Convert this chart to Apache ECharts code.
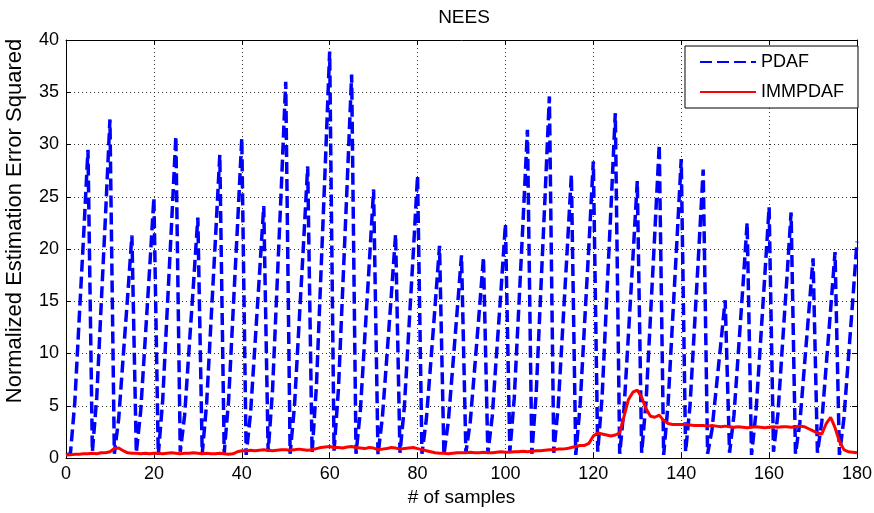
<!DOCTYPE html>
<html>
<head>
<meta charset="utf-8">
<script src="https://cdn.jsdelivr.net/npm/echarts@6/dist/echarts.min.js"></script>
<style>
html,body{margin:0;padding:0;background:#fff;}
#chart{width:874px;height:513px;}
</style>
</head>
<body>
<div id="chart"></div>
<script>
// PDAF NEES values, samples 0..180
const pdaf = [
0.3, 0.4, 5.3, 13.3, 21.2, 29.5,
0.6, 5.8, 14.6, 23.3, 32.4,
0.4, 3.8, 9.6, 15.3, 21.3,
0.5, 4.5, 11.2, 17.9, 24.9,
0.3, 5.5, 13.9, 22.2, 30.8,
0.6, 4.1, 10.4, 16.6, 23.0,
0.4, 5.2, 13.1, 20.9, 29.0,
0.5, 5.5, 13.8, 22.0, 30.6,
0.3, 4.3, 10.8, 17.4, 24.1,
0.6, 6.5, 16.2, 25.9, 36.0,
0.4, 5.0, 12.6, 20.1, 27.9,
0.5, 7.0, 17.5, 28.0, 38.9,
0.7, 6.6, 16.5, 26.4, 36.7,
0.4, 4.6, 11.6, 18.5, 25.7,
0.3, 3.9, 9.6, 15.4, 21.4,
0.5, 4.9, 12.2, 19.4, 27.0,
0.4, 3.7, 9.1, 14.6, 20.3,
0.3, 3.5, 8.7, 14.0, 19.4,
0.5, 3.5, 8.6, 13.8, 19.2,
0.4, 4.0, 10.1, 16.1, 22.4,
0.6, 5.7, 14.1, 22.6, 31.4,
0.4, 6.2, 15.6, 24.9, 34.6,
0.5, 4.9, 12.2, 19.5, 27.1,
0.3, 5.1, 12.8, 20.4, 28.4,
0.6, 5.9, 14.9, 23.8, 33.0,
0.4, 4.8, 11.9, 19.1, 26.5,
0.5, 5.4, 13.5, 21.6, 30.0,
0.3, 5.1, 12.9, 20.6, 28.6,
0.6, 5.0, 12.4, 19.9, 27.6,
0.4, 2.7, 6.8, 10.9, 15.1,
0.5, 4.1, 10.1, 16.2, 22.5,
0.3, 4.3, 10.8, 17.3, 24.0,
0.6, 4.2, 10.6, 16.9, 23.5,
0.4, 3.4, 8.6, 13.8, 19.1,
0.5, 3.5, 8.9, 14.2, 19.7,
0.3, 3.7, 9.3, 14.9, 20.7
];
// IMMPDAF NEES values, samples 0..180
const immpdaf = [
0.3, 0.3, 0.35, 0.35, 0.4, 0.4, 0.45, 0.4, 0.5, 0.5, 0.6,
0.9, 0.95, 0.7, 0.5, 0.45,
0.45, 0.4, 0.45, 0.4, 0.45,
0.45, 0.4, 0.45, 0.5, 0.45, 0.4, 0.45, 0.45, 0.5, 0.45,
0.4, 0.45, 0.4, 0.4, 0.45, 0.4, 0.35, 0.4, 0.6, 0.7,
0.7, 0.75, 0.7, 0.75, 0.8, 0.75, 0.7, 0.75, 0.8, 0.8,
0.75, 0.8, 0.85, 0.8, 0.75, 0.8, 0.9, 1.0, 1.05, 1.1,
1.0, 1.0, 0.95, 1.05, 1.1, 1.0, 0.95, 0.9, 1.0, 0.95,
0.8, 0.85, 0.9, 1.0, 0.95, 0.85, 0.9, 0.95, 1.0, 0.9,
0.8, 0.7, 0.6, 0.5, 0.45, 0.45, 0.4, 0.45, 0.5, 0.5,
0.5, 0.55, 0.5, 0.5, 0.55, 0.5, 0.5, 0.55, 0.6, 0.55,
0.55, 0.6, 0.6, 0.65, 0.6, 0.65, 0.7, 0.7, 0.75, 0.8,
0.8, 0.85, 0.85, 0.9, 1.0, 1.1, 1.2, 1.2, 1.4, 2.1,
2.4, 2.3, 2.2, 2.1, 2.2, 2.4, 4.0, 5.6, 6.3, 6.5,
5.8, 4.7, 4.0, 3.9, 4.1, 3.6, 3.3, 3.2, 3.2, 3.2,
3.2, 3.15, 3.1, 3.1, 3.1, 3.05, 3.1, 3.05, 3.0, 3.05,
3.0, 2.95, 3.0, 2.95, 2.9, 2.95, 3.0, 2.95, 2.9, 2.95,
3.0, 2.95, 3.0, 3.0, 2.95, 3.0, 3.05, 3.0, 2.8, 2.6,
2.4, 2.3, 3.3, 3.9, 2.9, 1.6, 0.8, 0.6, 0.55, 0.5
];
const seriesNames = ['PDAF', 'IMMPDAF'];
const xTicks = [0, 20, 40, 60, 80, 100, 120, 140, 160, 180];
const yTicks = [0, 5, 10, 15, 20, 25, 30, 35, 40];

const FONT = '"Liberation Sans", Arial, Helvetica, sans-serif';
const chart = echarts.init(document.getElementById('chart'), null, {renderer: 'canvas'});

const gridLine = {show: true, lineStyle: {color: '#000', width: 1, type: [1, 3], opacity: 0.8}};
const axisBase = {
  axisLine: {show: true, onZero: false, lineStyle: {color: '#000', width: 1}},
  axisTick: {show: true, inside: true, length: 5, lineStyle: {color: '#000'}}
};

const option = {
  backgroundColor: '#fff',
  animation: false,
  textStyle: {fontFamily: FONT, color: '#000'},
  title: {
    text: 'NEES', left: 459, top: 3, textAlign: 'center',
    textStyle: {fontFamily: FONT, fontSize: 19, fontWeight: 'normal', color: '#000'}
  },
  legend: {
    data: seriesNames,
    orient: 'vertical',
    left: 685, top: 46,
    padding: [7, 14, 7, 14],
    itemGap: 12,
    itemWidth: 56, itemHeight: 18,
    backgroundColor: '#fff',
    borderColor: '#000', borderWidth: 1,
    itemStyle: {opacity: 0},
    textStyle: {fontFamily: FONT, fontSize: 18, color: '#000'}
  },
  grid: {left: 66, right: 17, top: 40, bottom: 55, show: false, containLabel: false, outerBoundsMode: 'none'},
  xAxis: [{
    type: 'value', min: xTicks[0], max: xTicks[xTicks.length - 1], interval: 20,
    position: 'bottom',
    name: '# of samples', nameLocation: 'middle', nameGap: 29,
    nameTextStyle: {fontFamily: FONT, fontSize: 19, color: '#000'},
    axisLabel: {fontFamily: FONT, fontSize: 18, color: '#000', margin: 7},
    splitLine: gridLine,
    ...axisBase
  }, {
    type: 'value', min: xTicks[0], max: xTicks[xTicks.length - 1], interval: 20,
    position: 'top',
    axisLabel: {show: false}, splitLine: {show: false},
    ...axisBase
  }],
  yAxis: [{
    type: 'value', min: yTicks[0], max: yTicks[yTicks.length - 1], interval: 5,
    position: 'left',
    name: 'Normalized Estimation Error Squared', nameLocation: 'middle', nameGap: 40,
    nameTextStyle: {fontFamily: FONT, fontSize: 22, color: '#000', padding: [0, 0, 0, 56]},
    axisLabel: {fontFamily: FONT, fontSize: 18, color: '#000', margin: 7},
    splitLine: gridLine,
    ...axisBase
  }, {
    type: 'value', min: yTicks[0], max: yTicks[yTicks.length - 1], interval: 5,
    position: 'right',
    axisLabel: {show: false}, splitLine: {show: false},
    ...axisBase
  }],
  series: [{
    name: seriesNames[0], type: 'line',
    data: pdaf.map((v, i) => [i, v]),
    symbol: 'none', showSymbol: false,
    lineStyle: {color: '#0000ff', width: 3.5, type: [12, 5]},
    itemStyle: {color: '#0000ff'},
    z: 2
  }, {
    name: seriesNames[1], type: 'line',
    data: immpdaf.map((v, i) => [i, v]),
    symbol: 'none', showSymbol: false,
    lineStyle: {color: '#ff0000', width: 3},
    itemStyle: {color: '#ff0000'},
    z: 3
  }]
};
chart.setOption(option);
</script>
</body>
</html>
